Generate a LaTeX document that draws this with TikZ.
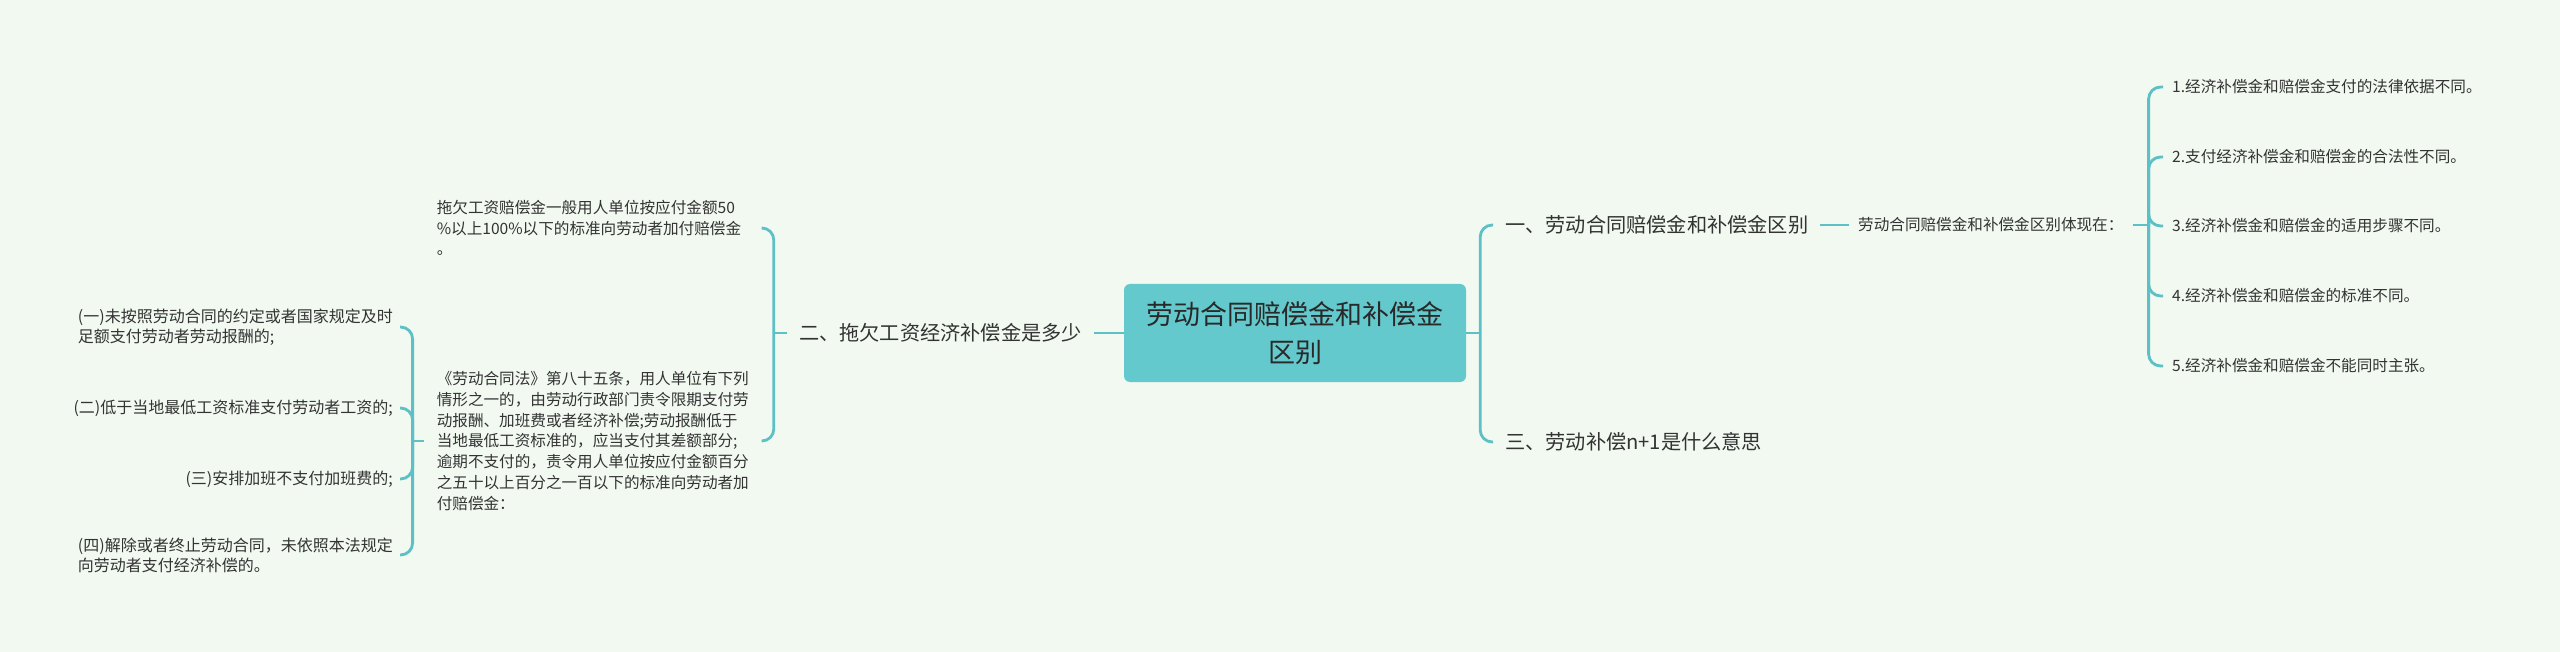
\documentclass[tikz,border=0pt]{standalone}
\usepackage{fontspec}
\usepackage{xcolor}
\newfontfamily\cjk{Noto Sans CJK SC}
\definecolor{paper}{HTML}{F1F9F1}
\definecolor{rootteal}{HTML}{63C9CC}
\definecolor{linkteal}{HTML}{5CC0C6}
\definecolor{ink}{HTML}{333333}

\tikzset{
  rootbox/.style={fill=rootteal, rounded corners=6pt, minimum width=342pt,
    minimum height=98pt, inner sep=0pt, align=center, text=ink!80!black,
    font=\cjk\fontsize{27}{38}\selectfont},
  branch/.style={inner xsep=12pt, inner ysep=2pt, text=ink,
    font=\cjk\fontsize{20.2}{24}\selectfont},
  leaf/.style={inner xsep=9pt, inner ysep=2pt, text=ink,
    font=\cjk\fontsize{15.6}{20}\selectfont},
  note/.style={inner xsep=13pt, inner ysep=2pt, text=ink, align=left,
    text width=312pt, font=\cjk\fontsize{15.6}{20.8}\selectfont},
  caseitem/.style={inner xsep=7pt, inner ysep=2pt, text=ink, align=left,
    font=\cjk\fontsize{16}{20}\selectfont}
}

\begin{document}
\begin{tikzpicture}[x=1pt, y=-1pt,
  link/.style={draw=linkteal, line width=2.8pt},
  fork/.style={link, rounded corners=12pt}]
  \fill[paper] (0,0) rectangle (2560,652);
  \useasboundingbox (0,0) rectangle (2560,652);

  % centre
  \node[rootbox] (root) at (1295,333) {劳动合同赔偿金和补偿金\\区别};

  % right side
  \node[branch, anchor=west] (diff) at (1493,225) {一、劳动合同赔偿金和补偿金区别};
  \node[branch, anchor=west] (nplus) at (1493,442) {三、劳动补偿n+1是什么意思};
  \node[leaf, anchor=west] (diffintro) at (1849,225) {劳动合同赔偿金和补偿金区别体现在：};
  \node[leaf, anchor=west] (diff1) at (2163,87) {1.经济补偿金和赔偿金支付的法律依据不同。};
  \node[leaf, anchor=west] (diff2) at (2163,157) {2.支付经济补偿金和赔偿金的合法性不同。};
  \node[leaf, anchor=west] (diff3) at (2163,226) {3.经济补偿金和赔偿金的适用步骤不同。};
  \node[leaf, anchor=west] (diff4) at (2163,296) {4.经济补偿金和赔偿金的标准不同。};
  \node[leaf, anchor=west] (diff5) at (2163,366) {5.经济补偿金和赔偿金不能同时主张。};

  % left side
  \node[branch, anchor=east] (wage) at (1094,333) {二、拖欠工资经济补偿金是多少};
  \node[note, anchor=east] (wagerate) at (762,228) {拖欠工资赔偿金一般用人单位按应付金额50\\
    \%以上100\%以下的标准向劳动者加付赔偿金\\。};
  \node[note, anchor=east] (wagelaw) at (762,441) {《劳动合同法》第八十五条，用人单位有下列\\
    情形之一的，由劳动行政部门责令限期支付劳\\
    动报酬、加班费或者经济补偿;劳动报酬低于\\
    当地最低工资标准的，应当支付其差额部分;\\
    逾期不支付的，责令用人单位按应付金额百分\\
    之五十以上百分之一百以下的标准向劳动者加\\
    付赔偿金：};
  \node[caseitem, anchor=east] (case1) at (400,327) {(一)未按照劳动合同的约定或者国家规定及时\\足额支付劳动者劳动报酬的;};
  \node[caseitem, anchor=east] (case2) at (400,408) {(二)低于当地最低工资标准支付劳动者工资的;};
  \node[caseitem, anchor=east] (case3) at (400,479) {(三)安排加班不支付加班费的;};
  \node[caseitem, anchor=east] (case4) at (400,555) {(四)解除或者终止劳动合同，未依照本法规定\\向劳动者支付经济补偿的。};

  % connectors
  \draw[link] (root.east) -- ++(14,0) coordinate (rootfork);
  \draw[fork] (rootfork) |- (diff.west);
  \draw[fork] (rootfork) |- (nplus.west);
  \draw[link] (diff.east) -- (diffintro.west);
  \draw[link] (diffintro.east) -- ++(16,0) coordinate (introfork);
  \foreach \k in {1,...,5}
    \draw[fork] (introfork) |- (diff\k.west);

  \draw[link] (root.west) -- (wage.east);
  \draw[link] (wage.west) -- ++(-13,0) coordinate (wagefork);
  \draw[fork] (wagefork) |- (wagerate.east);
  \draw[fork] (wagefork) |- (wagelaw.east);
  \draw[link] (wagelaw.west) -- ++(-11,0) coordinate (lawfork);
  \foreach \k in {1,...,4}
    \draw[fork] (lawfork) |- (case\k.east);
\end{tikzpicture}
\end{document}
